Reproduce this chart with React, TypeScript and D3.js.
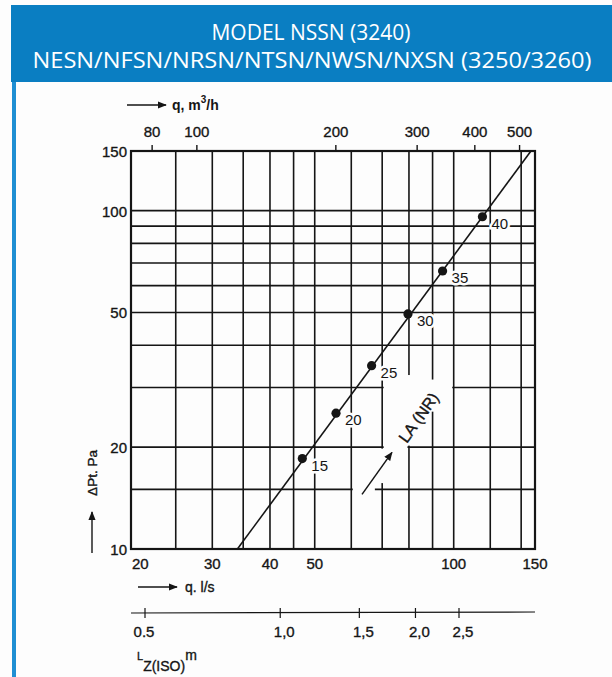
import React from "react";
import * as d3 from "d3";

// ---------- data ----------
const qGrid = [20, 25, 30, 35, 40, 45, 50, 60, 70, 80, 90, 100, 120, 140, 150]; // l/s
const pGrid = [10, 15, 20, 30, 40, 50, 60, 70, 80, 90, 100, 150]; // Pa
const qTicks = [20, 30, 40, 50, 100, 150];
const pTicks = [10, 20, 50, 100, 150];
const qm3hTicks = [80, 100, 200, 300, 400, 500];
const lzTicks = [0.5, 1.0, 1.5, 2.0, 2.5];
const lzLabels = ["0.5", "1,0", "1,5", "2,0", "2,5"];

const curveQ = [34, 147];
const curvePa = [10, 150];

const pointLabels = ["15", "20", "25", "30", "35", "40"];
const pointQ = [47.0, 55.6, 66.4, 79.6, 94.6, 115.4];
const pointPa = [18.5, 25.2, 34.8, 49.5, 66.3, 95.9];

// blank (erased) grid segments around the LA (NR) annotation
const gapH = [
  { pa: 30, q0: 70, q1: 100 },
  { pa: 20, q0: 70, q1: 80 },
  { pa: 15, q0: 60, q1: 68 },
];
const gapV = [
  { q: 90, p0: 25.2, p1: 32 },
  { q: 80, p0: 20, p1: 33 },
  { q: 70, p0: 15.5, p1: 20 },
];
const laArrowQ = [63.3, 73.5];
const laArrowPa = [14.5, 19.3];
const laLabelQ = 83.8;
const laLabelPa = 24.5;

const BG = "#fdfdfd";
const INK = "#151515";
const FONT = "'Liberation Sans', Arial, Helvetica, sans-serif";

export default function App() {
  const x = d3.scaleLog().domain([20, 150]).range([131, 535]);
  const y = d3.scaleLog().domain([10, 150]).range([549, 151]);
  const lz = d3.scaleLog().domain([0.5, 2.5]).range([145, 459]);
  const [x0, x1] = x.range();
  const [yb, yt] = y.range();

  const line = d3
    .line<number>()
    .x((_, i) => x(curveQ[i]))
    .y((_, i) => y(curvePa[i]));

  const a1 = { x: x(laArrowQ[0]), y: y(laArrowPa[0]) };
  const a2 = { x: x(laArrowQ[1]), y: y(laArrowPa[1]) };
  const ang = (Math.atan2(a2.y - a1.y, a2.x - a1.x) * 180) / Math.PI;

  const thick = { stroke: INK, strokeWidth: 0.35 } as const;

  return (
    <svg
      width={612}
      height={677}
      style={{ position: "absolute", left: 0, top: 0, display: "block" }}
      fontFamily={FONT}
    >
      <defs>
        <marker id="ah" viewBox="0 0 10 10" refX="9" refY="5" markerWidth="9" markerHeight="9" markerUnits="userSpaceOnUse" orient="auto">
          <path d="M0,1 L10,5 L0,9 Z" fill={INK} />
        </marker>
      </defs>
      <rect x={0} y={0} width={612} height={677} fill={BG} />
      {/* header */}
      <rect x={11} y={5} width={601} height={77} fill="#0a7ec2" />
      <rect x={12} y={82} width={4} height={595} fill="#1f8fd3" />
      <text x={311} y={40} fill="#fff" fontFamily="'Open Sans', 'Noto Sans', sans-serif" fontSize={21} textAnchor="middle">
        MODEL NSSN (3240)
      </text>
      <text x={312} y={68} fill="#fff" fontFamily="'Open Sans', 'Noto Sans', sans-serif" fontSize={21} textAnchor="middle" textLength={559} lengthAdjust="spacingAndGlyphs">
        NESN/NFSN/NRSN/NTSN/NWSN/NXSN (3250/3260)
      </text>

      {/* grid */}
      <g stroke={INK} strokeWidth={1.6}>
        {qGrid.map((q) => (
          <line key={"v" + q} x1={x(q)} x2={x(q)} y1={yb} y2={yt} />
        ))}
        {pGrid.map((p) => (
          <line key={"h" + p} x1={x0} x2={x1} y1={y(p)} y2={y(p)} />
        ))}
      </g>
      {/* erased grid segments */}
      <g stroke={BG} strokeWidth={4}>
        {gapH.map((g, i) => (
          <line key={"gh" + i} x1={x(g.q0) + 1.5} x2={x(g.q1) - 1.5} y1={y(g.pa)} y2={y(g.pa)} />
        ))}
        {gapV.map((g, i) => (
          <line key={"gv" + i} x1={x(g.q)} x2={x(g.q)} y1={y(g.p0) - 1.5} y2={y(g.p1) + 1.5} />
        ))}
      </g>
      {/* frame */}
      <rect x={x0} y={yt} width={x1 - x0} height={yb - yt} fill="none" stroke={INK} strokeWidth={2.2} />

      {/* top axis ticks (m3/h) */}
      <g stroke={INK} strokeWidth={1.4}>
        {qm3hTicks.map((v) => (
          <line key={"tt" + v} x1={x(v / 3.6)} x2={x(v / 3.6)} y1={yt} y2={yt - 6} />
        ))}
      </g>
      <g fontSize={15} fill={INK} textAnchor="middle" {...thick}>
        {qm3hTicks.map((v) => (
          <text key={"tl" + v} x={x(v / 3.6)} y={137}>
            {v}
          </text>
        ))}
      </g>
      {/* left ticks */}
      <g fontSize={15} fill={INK} textAnchor="end" {...thick}>
        {pTicks.map((p) => (
          <text key={"pl" + p} x={127} y={y(p) + 6}>
            {p}
          </text>
        ))}
      </g>
      {/* bottom ticks */}
      <g fontSize={15} fill={INK} {...thick}>
        {qTicks.map((q, i) => (
          <text key={"ql" + q} x={i === 0 ? x(q) + 1 : x(q)} y={569} textAnchor={i === 0 ? "start" : "middle"}>
            {q}
          </text>
        ))}
      </g>

      {/* curve */}
      <path d={line(curveQ) || ""} fill="none" stroke={INK} strokeWidth={1.6} />
      {pointQ.map((q, i) => (
        <g key={"pt" + i}>
          <text
            x={x(q) + 9}
            y={y(pointPa[i]) + 12}
            fontSize={15}
            fill={INK}
            stroke={BG}
            strokeWidth={5}
            paintOrder="stroke"
          >
            {pointLabels[i]}
          </text>
          <circle cx={x(q)} cy={y(pointPa[i])} r={4.6} fill={INK} />
        </g>
      ))}

      {/* LA (NR) annotation */}
      <line x1={a1.x} y1={a1.y} x2={a2.x} y2={a2.y} stroke={INK} strokeWidth={1.5} markerEnd="url(#ah)" />
      <text
        transform={`translate(${x(laLabelQ)},${y(laLabelPa)}) rotate(${ang})`}
        fontSize={16}
        fill={INK}
        textAnchor="middle"
        dy={6}
        {...thick}
      >
        LA (NR)
      </text>

      {/* axis titles */}
      <line x1={127} y1={105} x2={166} y2={105} stroke={INK} strokeWidth={1.4} markerEnd="url(#ah)" />
      <text x={172} y={110} fontSize={14} fill={INK} fontWeight="bold">
        q, m
        <tspan dy={-7} fontSize={10}>3</tspan>
        <tspan dy={7}>/h</tspan>
      </text>

      <line x1={138} y1={587} x2={177} y2={587} stroke={INK} strokeWidth={1.4} markerEnd="url(#ah)" />
      <text x={185} y={592} fontSize={14} fill={INK} {...thick}>
        q. l/s
      </text>

      <line x1={92} y1={553} x2={92} y2={512} stroke={INK} strokeWidth={1.4} markerEnd="url(#ah)" />
      <text transform="translate(97,473) rotate(-90)" fontSize={13.5} fill={INK} textAnchor="middle" {...thick}>
        ΔPt. Pa
      </text>

      {/* Lz scale */}
      <line x1={131} x2={535} y1={613} y2={612} stroke={INK} strokeWidth={1.2} />
      <g stroke={INK} strokeWidth={1.2}>
        {lzTicks.map((v) => (
          <line key={"lzt" + v} x1={lz(v)} x2={lz(v)} y1={608} y2={618} />
        ))}
      </g>
      <g fontSize={15} fill={INK} textAnchor="middle" {...thick}>
        {lzTicks.map((v, i) => (
          <text key={"lzl" + v} x={lz(v) + (i === 0 ? -1 : 4)} y={637}>
            {lzLabels[i]}
          </text>
        ))}
      </g>
      <text x={137} y={660} fontSize={14} fill={INK} {...thick}>
        <tspan fontSize={11}>L</tspan>
        <tspan dy={11}>Z(ISO)</tspan>
        <tspan dy={-11}>m</tspan>
      </text>
    </svg>
  );
}
